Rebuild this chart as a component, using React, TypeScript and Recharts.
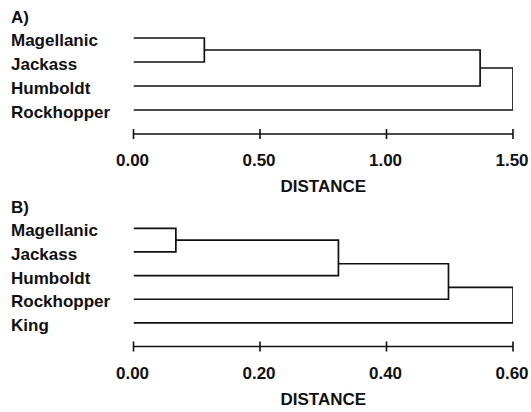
import React from 'react';
import { LineChart, Line, XAxis, YAxis } from 'recharts';

// panel A: four species
const LEAVES_A = ['Magellanic', 'Jackass', 'Humboldt', 'Rockhopper'];
// each merge: [left node, right node, distance, node row]; nodes 0..n-1 are the leaves
const MERGES_A: [number, number, number, number][] = [
  [0, 1, 0.28, 0.5],
  [4, 2, 1.37, 1.25],
  [5, 3, 1.5, 2.1],
];
const TICKS_A = [0, 0.5, 1.0, 1.5];

// panel B: five species
const LEAVES_B = ['Magellanic', 'Jackass', 'Humboldt', 'Rockhopper', 'King'];
const MERGES_B: [number, number, number, number][] = [
  [0, 1, 0.067, 0.5],
  [5, 2, 0.324, 1.5],
  [6, 3, 0.498, 2.5],
  [7, 4, 0.6, 3.5],
];
const TICKS_B = [0, 0.2, 0.4, 0.6];

const FONT = '"Liberation Sans", Arial, Helvetica, sans-serif';
const INK = '#111';

// elbow polylines, one per merge
function buildLinks(leaves: string[], merges: [number, number, number, number][]) {
  const nodes = leaves.map((_, i) => ({ d: 0, y: i }));
  return merges.map(([a, b, d, y]) => {
    const na = nodes[a];
    const nb = nodes[b];
    nodes.push({ d, y });
    return [
      { x: na.d, y: na.y },
      { x: d, y: na.y },
      { x: d, y: nb.y },
      { x: nb.d, y: nb.y },
    ];
  });
}

const DistTick = (props: any) => {
  const { x, y, payload } = props;
  return (
    <g>
      <line x1={x} x2={x} y1={y - 5} y2={y + 5} stroke={INK} strokeWidth={1.6} />
      <text x={x - 1} y={y + 32} textAnchor="middle" fontFamily={FONT} fontWeight="bold" fontSize={17} fill={INK}>
        {Number(payload.value).toFixed(2)}
      </text>
    </g>
  );
};

const leafTick = (names: string[]) => (props: any) => {
  const { y, payload } = props;
  return (
    <text x={11} y={y + 8} textAnchor="start" fontFamily={FONT} fontWeight="bold" fontSize={17} fill={INK}>
      {names[payload.value]}
    </text>
  );
};

const distanceLabel = (props: any) => {
  const vb = props.viewBox;
  return (
    <text x={vb.x + vb.width / 2} y={vb.y + 58} textAnchor="middle" fontFamily={FONT} fontWeight="bold" fontSize={17} fill={INK}>
      DISTANCE
    </text>
  );
};

interface PanelProps {
  leaves: string[];
  merges: [number, number, number, number][];
  ticks: number[];
  height: number;
  top: number;
}

const Dendrogram: React.FC<PanelProps> = ({ leaves, merges, ticks, height, top }) => {
  const links = buildLinks(leaves, merges);
  const max = ticks[ticks.length - 1];
  return (
    <LineChart width={531} height={height} margin={{ top, right: 18, bottom: 0, left: 0 }}>
      <XAxis
        type="number"
        dataKey="x"
        domain={[0, max]}
        ticks={ticks}
        interval={0}
        allowDataOverflow
        axisLine={{ stroke: INK, strokeWidth: 1.6 }}
        tickLine={false}
        tickSize={0}
        tickMargin={0}
        tick={<DistTick />}
        height={62}
        label={distanceLabel}
      />
      <YAxis
        type="number"
        dataKey="y"
        domain={[-0.5, leaves.length]}
        reversed
        ticks={leaves.map((_, i) => i)}
        interval={0}
        allowDataOverflow
        axisLine={false}
        tickLine={false}
        tick={leafTick(leaves)}
        width={133.5}
      />
      {links.map((pts, i) => (
        <Line
          key={i}
          data={pts}
          dataKey="y"
          type="linear"
          stroke={INK}
          strokeWidth={1.7}
          dot={false}
          activeDot={false}
          isAnimationActive={false}
        />
      ))}
    </LineChart>
  );
};

const titleStyle: React.CSSProperties = {
  position: 'absolute',
  left: 11,
  fontFamily: FONT,
  fontWeight: 'bold',
  fontSize: 17,
  lineHeight: '17px',
  color: INK,
};

export default function App() {
  return (
    <div style={{ position: 'absolute', left: 0, top: 0, width: 531, height: 412, background: '#fff' }}>
      <div style={{ position: 'absolute', left: 0, top: 0 }}>
        <Dendrogram leaves={LEAVES_A} merges={MERGES_A} ticks={TICKS_A} height={196} top={26} />
      </div>
      <div style={{ position: 'absolute', left: 0, top: 196 }}>
        <Dendrogram leaves={LEAVES_B} merges={MERGES_B} ticks={TICKS_B} height={212.5} top={20.5} />
      </div>
      <div style={{ ...titleStyle, top: 8.5 }}>A)</div>
      <div style={{ ...titleStyle, top: 198.5 }}>B)</div>
    </div>
  );
}
